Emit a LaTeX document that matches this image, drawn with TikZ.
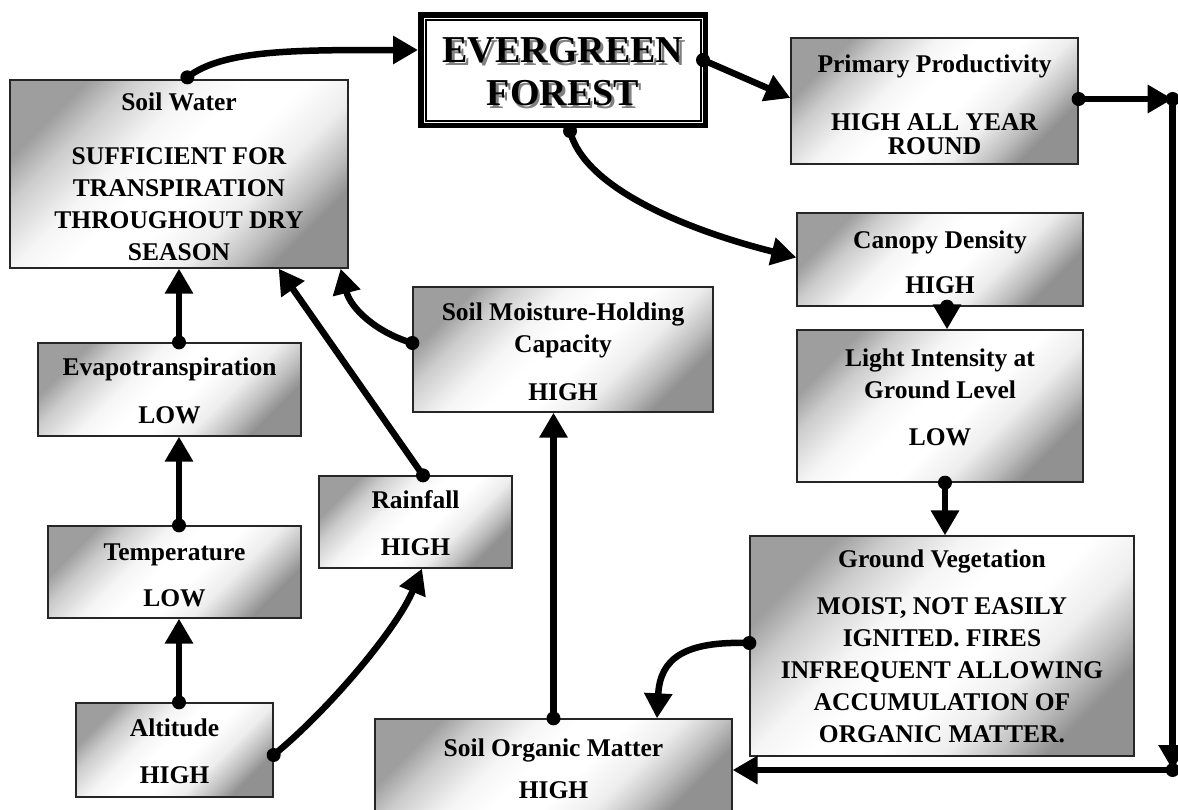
\documentclass[tikz,border=0pt]{standalone}
\usepackage{fontspec}
\setmainfont{Liberation Serif}
\usetikzlibrary{arrows.meta,calc}
\pgfdeclarehorizontalshading{boxshade}{100bp}{color(0bp)=(black!38); color(25bp)=(black!38); color(31bp)=(black!20); color(40bp)=(black!4); color(47bp)=(white); color(55bp)=(white); color(63bp)=(black!7); color(70bp)=(black!26); color(75bp)=(black!43); color(100bp)=(black!43)}
\begin{document}
\begin{tikzpicture}[x=1pt,y=-1pt,
  box/.style={draw=black!85, line width=1.3pt, rectangle, inner sep=0pt,
    shading=boxshade, shading angle=-45},
  txt/.style={align=center, font=\bfseries\fontsize{25.5}{32}\selectfont, inner sep=0pt},
  conn/.style={line width=6.5pt, -{Triangle[length=25pt,width=27pt]}},
  dotc/.style={fill=black},
]
\useasboundingbox (0,0) rectangle (1178,809);

% boxes
\node[draw=black, line width=5.5pt, minimum width=284.5pt, minimum height=110.5pt, inner sep=0pt] (ef) at (563,70) {};
\draw[line width=2pt] ($(ef.north west)+(7.5,7.5)$) rectangle ($(ef.south east)+(-7.5,-7.5)$);
\node[txt, font=\bfseries\fontsize{38}{43}\selectfont, text=black!50] (efs) at (565.5,74.5) {EVERGREEN\\FOREST};
\node[txt, font=\bfseries\fontsize{38}{43}\selectfont] (eft) at (563,72) {EVERGREEN\\FOREST};

\node[box, minimum width=338pt, minimum height=188pt] (sw) at (179,174) {};
\node[txt] (swt) at (179,177) {Soil Water\\[22pt]SUFFICIENT FOR\\TRANSPIRATION\\THROUGHOUT DRY\\SEASON};

\node[box, minimum width=287pt, minimum height=126pt] (pp) at (934.5,101) {};
\node[txt, font=\bfseries\fontsize{25.5}{24.5}\selectfont] (ppt) at (934.5,105) {Primary Productivity\\[33pt]HIGH ALL YEAR\\ROUND};

\node[box, minimum width=286pt, minimum height=93pt] (can) at (940,259.5) {};
\node[txt] (cant) at (940,262.5) {Canopy Density\\[13pt]HIGH};

\node[box, minimum width=286pt, minimum height=152pt] (li) at (940,406) {};
\node[txt] (lit) at (940,397) {Light Intensity at\\Ground Level\\[15pt]LOW};

\node[box, minimum width=384pt, minimum height=220pt] (gv) at (942,646) {};
\node[txt] (gvt) at (942,646) {Ground Vegetation\\[15pt]MOIST, NOT EASILY\\IGNITED. FIRES\\INFREQUENT ALLOWING\\ACCUMULATION OF\\ORGANIC MATTER.};

\node[box, minimum width=300pt, minimum height=125pt] (smhc) at (563,349.5) {};
\node[txt] (smt) at (563,352) {Soil Moisture-Holding\\Capacity\\[16pt]HIGH};

\node[box, minimum width=263pt, minimum height=93pt] (ev) at (169.5,389.5) {};
\node[txt] (evt) at (169.5,391) {Evapotranspiration\\[16pt]LOW};

\node[box, minimum width=193pt, minimum height=92pt] (rf) at (415.5,522) {};
\node[txt] (rft) at (415.5,523.5) {Rainfall\\[15pt]HIGH};

\node[box, minimum width=253pt, minimum height=92pt] (te) at (174.5,572) {};
\node[txt] (tet) at (174.5,575) {Temperature\\[14pt]LOW};

\node[box, minimum width=197pt, minimum height=94pt] (al) at (174.5,750) {};
\node[txt] (alt) at (174.5,751.5) {Altitude\\[15pt]HIGH};

\node[box, minimum width=357pt, minimum height=96pt] (som) at (553.5,767) {};
\node[txt] (somt) at (553.5,769) {Soil Organic Matter\\[10pt]HIGH};

% junction coordinates
\coordinate (jt) at ($(pp.east)+(94,-2)$);
\coordinate (jb) at ($(som.east)+(440,3)$);

% connectors
\coordinate (s1) at ($(sw.north west)+(178,-2)$);
\draw[conn] (s1) .. controls +(35,-28) and +(-120,0) .. ($(ef.west)+(0,-20)$);
\fill[dotc] (s1) circle[radius=7pt];

\coordinate (s2) at ($(ef.east)+(-5,-10)$);
\draw[conn] (s2) -- ($(pp.west)+(0,-3)$);
\fill[dotc] (s2) circle[radius=7pt];

\coordinate (s3) at ($(ef.south)+(7,3)$);
\draw[conn] (s3) .. controls +(15,60) and +(-100,-25) .. ($(can.west)+(0,-2)$);
\fill[dotc] (s3) circle[radius=7pt];

\coordinate (s4) at ($(pp.east)+(0,-2)$);
\draw[conn] (s4) -- (jt);
\fill[dotc] (s4) circle[radius=7pt];
\draw[conn] (jt) -- (jb);
\fill[dotc] (jt) circle[radius=7pt];
\draw[conn] (jb) -- (jb -| som.east);
\fill[dotc] (jb) circle[radius=7pt];

\coordinate (s7) at ($(can.south)+(7,0)$);
\draw[conn] (s7) -- ($(li.north)+(7,0)$);
\fill[dotc] (s7) circle[radius=7pt];

\coordinate (s8) at ($(li.south)+(5,0)$);
\draw[conn] (s8) -- ($(gv.north)+(3,0)$);
\fill[dotc] (s8) circle[radius=7pt];

\coordinate (s9) at ($(gv.west)+(0,-3)$);
\draw[conn] (s9) .. controls +(-65,-2) and +(3,-60) .. ($(som.north)+(103.5,0)$);
\fill[dotc] (s9) circle[radius=7pt];

\coordinate (s10) at (som.north);
\draw[conn] (s10) -- ($(smhc.south)+(-9.5,0)$);
\fill[dotc] (s10) circle[radius=7pt];

\coordinate (s11) at ($(smhc.west)+(0,-6.5)$);
\draw[conn] (s11) .. controls +(-35,-10) and +(10,40) .. ($(sw.south east)+(-8,0)$);
\fill[dotc] (s11) circle[radius=7pt];

\coordinate (s12) at ($(rf.north)+(7.5,0)$);
\draw[conn] (s12) -- ($(sw.south east)+(-70,0)$);
\fill[dotc] (s12) circle[radius=7pt];

\coordinate (s13) at ($(ev.north)+(9.5,0)$);
\draw[conn] (s13) -- (sw.south);
\fill[dotc] (s13) circle[radius=7pt];

\coordinate (s14) at ($(te.north)+(4.5,0)$);
\draw[conn] (s14) -- ($(ev.south)+(9.5,0)$);
\fill[dotc] (s14) circle[radius=7pt];

\coordinate (s15) at ($(al.north)+(4.5,0)$);
\draw[conn] (s15) -- ($(te.south)+(4.5,0)$);
\fill[dotc] (s15) circle[radius=7pt];

\coordinate (s16) at ($(al.east)+(0,5)$);
\draw[conn] (s16) .. controls +(55,-45) and +(-25,60) .. ($(rf.south)+(6.5,0)$);
\fill[dotc] (s16) circle[radius=7pt];
\end{tikzpicture}
\end{document}
